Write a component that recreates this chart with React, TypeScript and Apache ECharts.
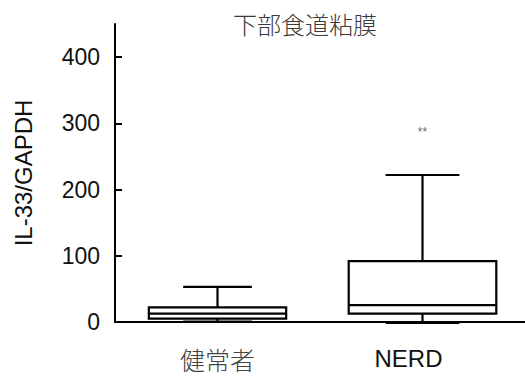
import React, { useEffect, useRef } from "react";
import * as echarts from "echarts";

// ---- data ----
const categories = ["健常者", "NERD"];
const lowerWhisker = [0.5, -1.5];
const q1Values = [5, 12.5];
const medianValues = [12.5, 25.5];
const q3Values = [22, 92];
const upperWhisker = [53, 222];
const sigLabels = ["", "**"];
const sigValues = [null, 287];
const yTickValues = [0, 100, 200, 300, 400];

// ---- styles ----
const BOX_RATIO = [0.67, 0.72];
const LATIN = '"Liberation Sans", Arial, sans-serif';
const CJK = '"Noto Sans CJK JP", "Noto Sans CJK SC", sans-serif';

export default function App() {
  const ref = useRef<HTMLDivElement>(null);
  useEffect(() => {
    if (!ref.current) return;
    const chart = echarts.init(ref.current, null, { renderer: "svg" });
    const data = categories.map((_, i) => [
      i,
      lowerWhisker[i],
      q1Values[i],
      medianValues[i],
      q3Values[i],
      upperWhisker[i],
      sigValues[i],
    ]);
    const option: any = {
      animation: false,
      title: {
        text: "下部食道粘膜",
        left: 300,
        top: 6,
        textAlign: "center",
        textStyle: {
          fontFamily: CJK,
          fontSize: 24,
          fontWeight: 300,
          color: "#3a3a3a",
        },
      },
      grid: { left: 115, right: 0, top: 24, bottom: 54 },
      xAxis: {
        type: "category",
        data: [
          { value: categories[0], textStyle: { fontFamily: CJK, fontSize: 25, fontWeight: 300, color: "#444" } },
          { value: categories[1], textStyle: { fontFamily: LATIN, fontSize: 24, color: "#111", padding: [0, 28, 0, 0] } },
        ],
        boundaryGap: true,
        axisLine: { lineStyle: { color: "#000", width: 2 } },
        axisTick: { show: false },
        axisLabel: { fontSize: 24, margin: 24 },
        splitLine: { show: false },
      },
      yAxis: {
        type: "value",
        min: 0,
        max: 450,
        interval: 50,
        name: "IL-33/GAPDH",
        nameLocation: "middle",
        nameGap: 80,
        nameRotate: 90,
        nameTextStyle: { fontFamily: LATIN, fontSize: 24, color: "#111" },
        axisLine: { show: true, lineStyle: { color: "#000", width: 2 } },
        axisTick: {
          show: true,
          inside: true,
          length: 7,
          lineStyle: { color: "#000", width: 2 },
          customValues: yTickValues,
        },
        axisLabel: {
          fontFamily: LATIN,
          fontSize: 23,
          color: "#111",
          margin: 15,
          customValues: yTickValues,
        },
        splitLine: { show: false },
      },
      series: [
        {
          type: "custom",
          clip: false,
          data,
          renderItem: (params: any, api: any) => {
            const idx = api.value(0);
            const band = api.size([1, 0])[0];
            const w = band * BOX_RATIO[idx];
            const cx = api.coord([idx, 0])[0];
            const yLow = api.coord([idx, api.value(1)])[1];
            const yQ1 = api.coord([idx, api.value(2)])[1];
            const yMed = api.coord([idx, api.value(3)])[1];
            const yQ3 = api.coord([idx, api.value(4)])[1];
            const yHigh = api.coord([idx, api.value(5)])[1];
            const line = { stroke: "#000", lineWidth: 2.2, fill: null };
            const cap = w / 4;
            const children: any[] = [
              { type: "line", shape: { x1: cx, y1: yQ3, x2: cx, y2: yHigh }, style: line },
              { type: "line", shape: { x1: cx - cap, y1: yHigh, x2: cx + cap, y2: yHigh }, style: line },
              { type: "line", shape: { x1: cx, y1: yQ1, x2: cx, y2: yLow }, style: line },
              { type: "line", shape: { x1: cx - cap, y1: yLow, x2: cx + cap, y2: yLow }, style: line },
              {
                type: "rect",
                shape: { x: cx - w / 2, y: yQ3, width: w, height: yQ1 - yQ3 },
                style: { stroke: "#000", lineWidth: 2.2, fill: "#fff" },
              },
              { type: "line", shape: { x1: cx - w / 2, y1: yMed, x2: cx + w / 2, y2: yMed }, style: line },
            ];
            const sv = sigValues[idx];
            if (sv != null && sigLabels[idx]) {
              const ys = api.coord([idx, sv])[1];
              children.push({
                type: "text",
                x: cx,
                y: ys,
                style: {
                  text: sigLabels[idx],
                  fontSize: 12,
                  fontFamily: LATIN,
                  fill: "#666",
                  align: "center",
                  verticalAlign: "middle",
                },
              });
            }
            return { type: "group", children };
          },
        },
      ],
    };
    chart.setOption(option);
    return () => chart.dispose();
  }, []);
  return (
    <div
      ref={ref}
      style={{ position: "fixed", left: 0, top: 0, width: 525, height: 376, background: "#fff" }}
    />
  );
}
